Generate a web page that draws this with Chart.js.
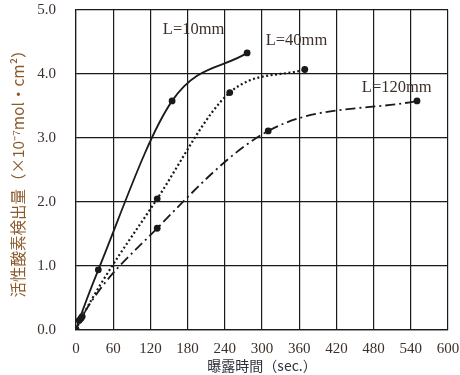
<!DOCTYPE html>
<html>
<head>
<meta charset="utf-8">
<script src="https://cdn.jsdelivr.net/npm/chart.js@4.4.1/dist/chart.umd.min.js"></script>
<style>
  html, body { margin: 0; padding: 0; background: #fff; }
  #wrap { width: 460px; height: 375px; }
</style>
</head>
<body>
<div id="wrap"><canvas id="chart" width="460" height="375"></canvas></div>
<script>
// exposure time (sec.) and detected amount (x10^-7 mol/cm2)
const l10Time  = [0, 5, 36, 155, 276];
const l10Value = [0, 0.15, 0.94, 3.58, 4.33];

const l40Time  = [0, 10, 131, 248, 369];
const l40Value = [0, 0.21, 2.05, 3.71, 4.07];

const l120Time  = [0, 8, 131, 310, 550];
const l120Value = [0, 0.18, 1.59, 3.11, 3.58];

const seriesLabels = ['L=10mm', 'L=40mm', 'L=120mm'];
// where each label sits, in data units
const labelAnchors = [[140, 4.69], [306, 4.52], [461, 3.78]];

const xTicks = [0, 60, 120, 180, 240, 300, 360, 420, 480, 540, 600];
const yTicks = [0, 1, 2, 3, 4, 5];

const ink = '#1a1a1a';
const textColor = '#3b302a';

function toPoints(xs, ys) {
  return xs.map((x, i) => ({ x, y: ys[i] }));
}

function lineSet(label, xs, ys, dash, width) {
  return {
    label,
    data: toPoints(xs, ys),
    showLine: true,
    borderColor: ink,
    backgroundColor: ink,
    borderWidth: width,
    borderDash: dash,
    cubicInterpolationMode: 'monotone',
    pointRadius: 3.4,
    pointHoverRadius: 3.4,
    pointBorderWidth: 0,
  };
}

// Series labels written inside the plot
const seriesLabelPlugin = {
  id: 'seriesLabels',
  afterDatasetsDraw(chart) {
    const { ctx, scales: { x, y } } = chart;
    ctx.save();
    ctx.font = '16.5px "Liberation Serif", "DejaVu Serif", serif';
    ctx.fillStyle = textColor;
    ctx.textAlign = 'left';
    ctx.textBaseline = 'middle';
    seriesLabels.forEach((txt, i) => {
      const [ax, ay] = labelAnchors[i];
      ctx.fillText(txt, x.getPixelForValue(ax), y.getPixelForValue(ay));
    });
    ctx.restore();
  }
};

new Chart(document.getElementById('chart').getContext('2d'), {
  type: 'scatter',
  data: {
    datasets: [
      lineSet(seriesLabels[0], l10Time, l10Value, [], 1.8),
      lineSet(seriesLabels[1], l40Time, l40Value, [2, 2.5], 2.2),
      lineSet(seriesLabels[2], l120Time, l120Value, [10, 4, 2, 4], 1.8),
    ]
  },
  options: {
    responsive: false,
    animation: false,
    events: [],
    layout: { padding: { left: 0, top: 10, right: 12, bottom: 0 } },
    plugins: {
      legend: { display: false },
      tooltip: { enabled: false },
    },
    scales: {
      x: {
        type: 'linear',
        min: 0,
        max: 600,
        afterFit: s => { s.height = 45; s.paddingLeft = 0; s.paddingRight = 0; },
        afterBuildTicks: s => { s.ticks = xTicks.map(v => ({ value: v })); },
        grid: { color: ink, lineWidth: 1.2, drawTicks: false },
        border: { color: ink, width: 1.2 },
        ticks: {
          color: textColor,
          padding: 10,
          maxRotation: 0,
          font: { family: '"Liberation Serif", "DejaVu Serif", serif', size: 15 },
          callback: v => v,
        },
        title: {
          display: true,
          text: '曝露時間（sec.）',
          color: '#2f2f3a',
          padding: { top: 0, bottom: 1 },
          font: { family: '"Noto Sans CJK JP", sans-serif', size: 14 },
        },
      },
      y: {
        type: 'linear',
        min: 0,
        max: 5,
        afterFit: s => { s.width = 76; s.paddingTop = 0; s.paddingBottom = 0; },
        afterBuildTicks: s => { s.ticks = yTicks.map(v => ({ value: v })); },
        grid: { color: ink, lineWidth: 1.2, drawTicks: false },
        border: { color: ink, width: 1.2 },
        ticks: {
          color: textColor,
          padding: 20,
          font: { family: '"Liberation Serif", "DejaVu Serif", serif', size: 15 },
          callback: v => v.toFixed(1),
        },
        title: {
          display: true,
          text: '活性酸素検出量（×10⁻⁷mol・cm²）',
          color: '#8b5a2b',
          padding: { top: 9, bottom: 0 },
          font: { family: '"Noto Sans CJK JP", sans-serif', size: 15.5 },
        },
      },
    },
  },
  plugins: [seriesLabelPlugin],
});
</script>
</body>
</html>
